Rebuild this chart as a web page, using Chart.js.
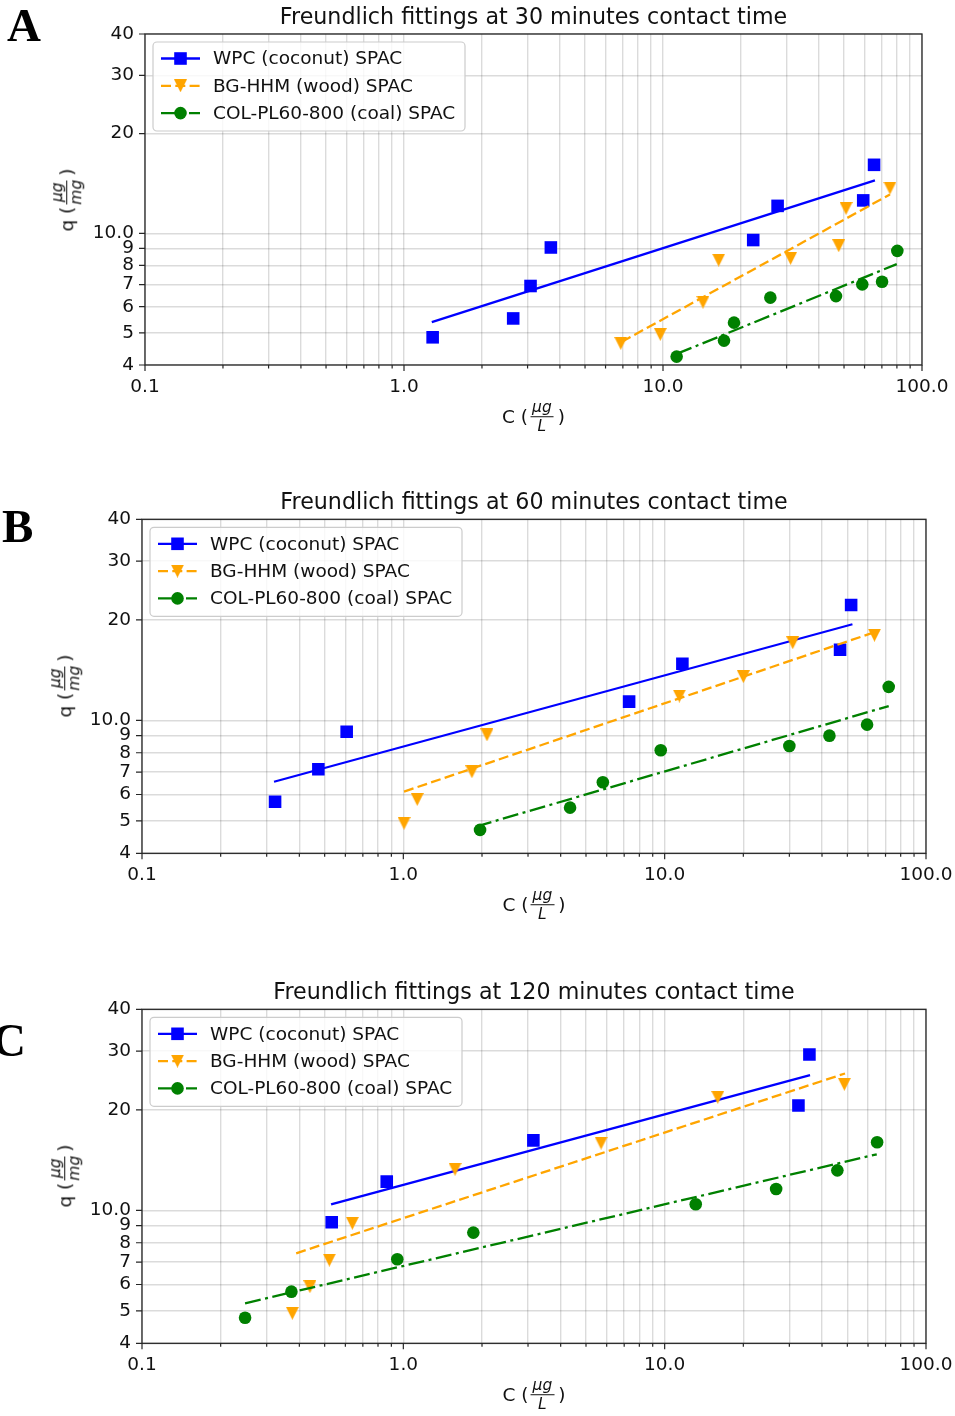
<!DOCTYPE html>
<html>
<head>
<meta charset="utf-8">
<script src="https://cdn.jsdelivr.net/npm/chart.js@4.4.0/dist/chart.umd.min.js"></script>
<style>
body { margin: 0; background: #fff; width: 955px; height: 1416px; position: relative; overflow: hidden; font-family: "DejaVu Sans", sans-serif; color: #111; }
canvas { position: absolute; left: 0; }
.title { position: absolute; font-size: 22.2px; line-height: 1; white-space: nowrap; transform: translateX(-50%); }
.letter { position: absolute; font-family: "Liberation Serif", serif; font-weight: bold; font-size: 47px; line-height: 1; color: #000; }
.lab { position: absolute; display: flex; align-items: center; font-size: 18.5px; white-space: nowrap; transform: translate(-50%, -50%); }
.lab.rot { transform: translate(-50%, -50%) rotate(-90deg); }
.frac { display: inline-flex; flex-direction: column; align-items: center; font-style: italic; font-size: 15.5px; line-height: 1.05; margin: 0 4px 0 2px; }
.frac .num { border-bottom: 1px solid #111; padding: 0 2px 1px; }
.frac .den { padding-top: 1px; }
</style>
</head>
<body>
<script>
// tick positions and labels
const xTickValues = [0.1, 0.2, 0.3, 0.4, 0.5, 0.6, 0.7, 0.8, 0.9,
    1, 2, 3, 4, 5, 6, 7, 8, 9,
    10, 20, 30, 40, 50, 60, 70, 80, 90, 100];
const xMajorTicks = [0.1, 1, 10, 100];
const xMajorLabels = ['0.1', '1.0', '10.0', '100.0'];
const yTickValues = [4, 5, 6, 7, 8, 9, 10, 20, 30, 40];
const yTickLabels = ['4', '5', '6', '7', '8', '9', '10.0', '20', '30', '40'];

// 30 minutes
const wpc30C = [1.29, 2.64, 3.08, 3.69, 22.3, 27.7, 59.3, 65.3];
const wpc30Q = [4.85, 5.53, 6.93, 9.06, 9.54, 12.1, 12.57, 16.1];
const wpc30FitC = [1.28, 65.8];
const wpc30FitQ = [5.39, 14.44];
const bg30C = [6.87, 9.76, 14.27, 16.4, 31.1, 47.7, 50.9, 75.2];
const bg30Q = [4.65, 4.95, 6.19, 8.30, 8.40, 9.17, 11.89, 13.7];
const bg30FitC = [6.93, 75.2];
const bg30FitQ = [4.70, 13.1];
const col30C = [11.29, 17.2, 18.8, 25.97, 46.55, 58.8, 70.1, 80.3];
const col30Q = [4.24, 4.74, 5.37, 6.39, 6.46, 7.01, 7.14, 8.85];
const col30FitC = [11.29, 79.9];
const col30FitQ = [4.32, 8.07];

// 60 minutes
const wpc60C = [0.323, 0.473, 0.607, 7.31, 11.69, 46.9, 51.7];
const wpc60Q = [5.71, 7.14, 9.25, 11.38, 14.78, 16.28, 22.15];
const wpc60FitC = [0.320, 52.3];
const wpc60FitQ = [6.55, 19.4];
const bg60C = [1.006, 1.13, 1.83, 2.09, 11.38, 20.0, 30.9, 63.5];
const bg60Q = [4.92, 5.80, 7.02, 9.05, 11.83, 13.52, 17.08, 18.0];
const bg60FitC = [1.006, 66.1];
const bg60FitQ = [6.12, 18.56];
const col60C = [1.966, 4.345, 5.80, 9.66, 30.0, 42.7, 59.5, 72.0];
const col60Q = [4.70, 5.48, 6.53, 8.14, 8.38, 9.0, 9.71, 12.6];
const col60FitC = [1.897, 72.0];
const col60FitQ = [4.81, 11.04];

// 120 minutes
const wpc120C = [0.532, 0.864, 3.145, 32.5, 35.8];
const wpc120Q = [9.21, 12.19, 16.2, 20.6, 29.3];
const wpc120FitC = [0.529, 36.0];
const wpc120FitQ = [10.43, 25.4];
const bg120C = [0.376, 0.439, 0.521, 0.638, 1.577, 5.71, 15.97, 48.7];
const bg120Q = [4.92, 5.91, 7.10, 9.15, 13.28, 15.9, 21.8, 23.85];
const bg120FitC = [0.389, 49.0];
const bg120FitQ = [7.44, 25.7];
const col120C = [0.248, 0.373, 0.948, 1.853, 13.15, 26.7, 45.8, 65.0];
const col120Q = [4.77, 5.71, 7.14, 8.58, 10.43, 11.59, 13.18, 15.99];
const col120FitC = [0.248, 64.8];
const col120FitQ = [5.27, 14.72];

// downward triangle marker (matplotlib 'v': width == height)
function makeTriangle(size, color) {
    const c = document.createElement('canvas');
    c.width = size;
    c.height = size;
    const g = c.getContext('2d');
    g.fillStyle = color;
    g.beginPath();
    g.moveTo(0, 0);
    g.lineTo(size, 0);
    g.lineTo(size / 2, size);
    g.closePath();
    g.fill();
    return c;
}

const series = [
    { label: 'WPC (coconut) SPAC', color: 'blue', pointStyle: 'rect', radius: 8.9, dash: [] },
    { label: 'BG-HHM (wood) SPAC', color: 'orange', pointStyle: makeTriangle(13, 'orange'), radius: 6.5, dash: [10, 4.3] },
    { label: 'COL-PL60-800 (coal) SPAC', color: 'green', pointStyle: 'circle', radius: 6.3, dash: [16, 4.5, 3, 4.5] }
];

const panels = [
    {
        letter: 'A', letterX: 7, letterY: 1.7, minutes: 30, top: 0, height: 470,
        area: { left: 145, right: 922, top: 34, bottom: 365 },
        titleY: 4.5, xLabY: 417, yLabX: 67,
        data: [[wpc30C, wpc30Q, wpc30FitC, wpc30FitQ], [bg30C, bg30Q, bg30FitC, bg30FitQ], [col30C, col30Q, col30FitC, col30FitQ]]
    },
    {
        letter: 'B', letterX: 2, letterY: 502.7, minutes: 60, top: 470, height: 490,
        area: { left: 142, right: 926, top: 49.3, bottom: 383.3 },
        titleY: 489.5, xLabY: 905, yLabX: 64.5,
        data: [[wpc60C, wpc60Q, wpc60FitC, wpc60FitQ], [bg60C, bg60Q, bg60FitC, bg60FitQ], [col60C, col60Q, col60FitC, col60FitQ]]
    },
    {
        letter: 'C', letterX: -8, letterY: 1016.7, minutes: 120, top: 960, height: 456,
        area: { left: 142, right: 926, top: 49.3, bottom: 383.3 },
        titleY: 979.5, xLabY: 1395, yLabX: 64.5,
        data: [[wpc120C, wpc120Q, wpc120FitC, wpc120FitQ], [bg120C, bg120Q, bg120FitC, bg120FitQ], [col120C, col120Q, col120FitC, col120FitQ]]
    }
];

const X_SCALE_H = 40;
const SPINE = '#262626';

const framePlugin = {
    id: 'frame',
    afterDatasetsDraw(chart) {
        const { ctx, chartArea: a } = chart;
        ctx.save();
        ctx.strokeStyle = SPINE;
        ctx.lineWidth = 1.3;
        ctx.strokeRect(a.left, a.top, a.right - a.left, a.bottom - a.top);
        // tick marks, pointing out
        ctx.lineWidth = 1.2;
        ctx.beginPath();
        chart.scales.x.ticks.forEach(t => {
            const px = chart.scales.x.getPixelForValue(t.value);
            const len = xMajorTicks.includes(t.value) ? 6 : 3.5;
            ctx.moveTo(px, a.bottom);
            ctx.lineTo(px, a.bottom + len);
        });
        chart.scales.y.ticks.forEach(t => {
            const py = chart.scales.y.getPixelForValue(t.value);
            ctx.moveTo(a.left, py);
            ctx.lineTo(a.left - 6, py);
        });
        ctx.stroke();
        ctx.restore();
    }
};

function drawMarker(ctx, s, x, y) {
    ctx.fillStyle = s.color;
    if (s.pointStyle === 'rect') {
        const h = s.radius * Math.SQRT1_2;
        ctx.fillRect(x - h, y - h, 2 * h, 2 * h);
    } else if (s.pointStyle === 'circle') {
        ctx.beginPath();
        ctx.arc(x, y, s.radius, 0, Math.PI * 2);
        ctx.fill();
    } else {
        const img = s.pointStyle;
        ctx.drawImage(img, x - img.width / 2, y - img.height / 2);
    }
}

const legendPlugin = {
    id: 'boxLegend',
    afterDraw(chart) {
        const { ctx, chartArea: a } = chart;
        const x0 = a.left + 8, y0 = a.top + 8, w = 312, h = 89, r = 4;
        ctx.save();
        ctx.beginPath();
        ctx.roundRect(x0, y0, w, h, r);
        ctx.fillStyle = 'rgba(255,255,255,0.8)';
        ctx.fill();
        ctx.strokeStyle = '#cccccc';
        ctx.lineWidth = 1.2;
        ctx.stroke();
        series.forEach((s, i) => {
            const y = y0 + 16.5 + i * 27.3;
            ctx.strokeStyle = s.color;
            ctx.lineWidth = 2.3;
            ctx.setLineDash(s.dash);
            ctx.beginPath();
            ctx.moveTo(x0 + 8, y);
            ctx.lineTo(x0 + 47, y);
            ctx.stroke();
            ctx.setLineDash([]);
            drawMarker(ctx, s, x0 + 27.5, y);
            ctx.fillStyle = '#111';
            ctx.font = '18.5px "DejaVu Sans"';
            ctx.textBaseline = 'middle';
            ctx.fillText(s.label, x0 + 60, y + 1);
        });
        ctx.restore();
    }
};

function buildDatasets(data) {
    const out = [];
    data.forEach((d, i) => {
        const s = series[i];
        const [c, q, fc, fq] = d;
        out.push({
            data: c.map((v, j) => ({ x: v, y: q[j] })),
            showLine: false,
            pointStyle: s.pointStyle,
            pointRadius: s.radius,
            pointBorderWidth: 0,
            backgroundColor: s.color,
            borderColor: s.color,
            order: 10 - 2 * i
        });
        out.push({
            data: fc.map((v, j) => ({ x: v, y: fq[j] })),
            showLine: true,
            pointRadius: 0,
            borderWidth: 2.3,
            borderColor: s.color,
            borderDash: s.dash,
            fill: false,
            order: 9 - 2 * i
        });
    });
    return out;
}

function addDiv(cls, html, style) {
    const el = document.createElement('div');
    el.className = cls;
    el.innerHTML = html;
    Object.assign(el.style, style);
    document.body.appendChild(el);
}

panels.forEach(p => {
    const canvas = document.createElement('canvas');
    canvas.width = 955;
    canvas.height = p.height;
    canvas.style.top = p.top + 'px';
    document.body.appendChild(canvas);

    const a = p.area;
    new Chart(canvas.getContext('2d'), {
        type: 'scatter',
        data: { datasets: buildDatasets(p.data) },
        options: {
            responsive: false,
            animation: false,
            devicePixelRatio: 1,
            layout: { padding: { left: 0, top: a.top, right: 955 - a.right, bottom: p.height - a.bottom - X_SCALE_H } },
            plugins: { legend: { display: false }, tooltip: { enabled: false } },
            scales: {
                x: {
                    type: 'logarithmic',
                    min: 0.1,
                    max: 100,
                    afterBuildTicks: s => { s.ticks = xTickValues.map(v => ({ value: v })); },
                    afterFit: s => { s.height = X_SCALE_H; s.paddingLeft = 0; s.paddingRight = 0; },
                    ticks: {
                        autoSkip: false,
                        maxRotation: 0,
                        padding: 11,
                        color: '#111',
                        font: { family: 'DejaVu Sans', size: 18.5 },
                        callback: v => {
                            const k = xMajorTicks.indexOf(v);
                            return k >= 0 ? xMajorLabels[k] : '';
                        }
                    },
                    grid: { color: 'rgba(0,0,0,0.14)', lineWidth: 1.4, drawTicks: false },
                    border: { display: false }
                },
                y: {
                    type: 'logarithmic',
                    min: 4,
                    max: 40,
                    afterBuildTicks: s => { s.ticks = yTickValues.map(v => ({ value: v })); },
                    afterFit: s => { s.width = a.left; s.paddingTop = 0; s.paddingBottom = 0; },
                    ticks: {
                        autoSkip: false,
                        padding: 11,
                        color: '#111',
                        font: { family: 'DejaVu Sans', size: 18.5 },
                        callback: v => {
                            const k = yTickValues.indexOf(v);
                            return k >= 0 ? yTickLabels[k] : '';
                        }
                    },
                    grid: { color: 'rgba(0,0,0,0.14)', lineWidth: 1.4, drawTicks: false },
                    border: { display: false }
                }
            }
        },
        plugins: [framePlugin, legendPlugin]
    });

    const cx = (a.left + a.right) / 2;
    addDiv('letter', p.letter, { left: p.letterX + 'px', top: p.letterY + 'px' });
    addDiv('title', 'Freundlich fittings at ' + p.minutes + ' minutes contact time', { left: cx + 'px', top: p.titleY + 'px' });
    addDiv('lab', 'C (<span class="frac"><span class="num">μg</span><span class="den">L</span></span>)',
        { left: cx + 'px', top: p.xLabY + 'px' });
    addDiv('lab rot', 'q (<span class="frac"><span class="num">μg</span><span class="den">mg</span></span>)',
        { left: p.yLabX + 'px', top: (p.top + (a.top + a.bottom) / 2) + 'px' });
});
</script>
</body>
</html>
